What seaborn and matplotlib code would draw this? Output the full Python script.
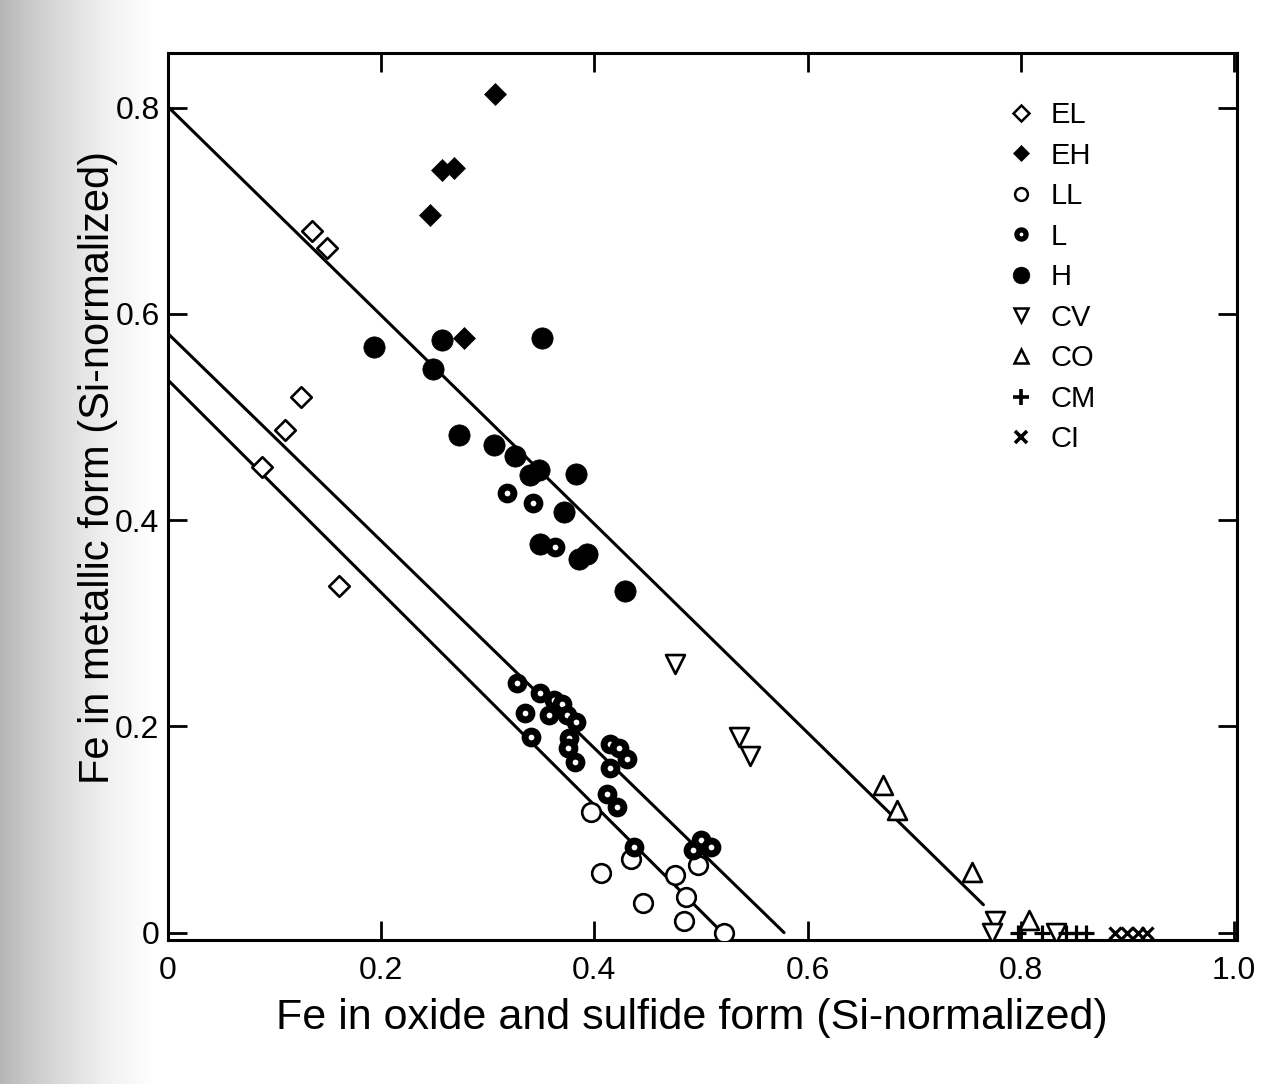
import numpy as np
import pandas as pd
import matplotlib.pyplot as plt
import seaborn as sns
from matplotlib.lines import Line2D

# points
el_x = [0.135, 0.149, 0.125, 0.110, 0.088, 0.160]
el_y = [0.680, 0.664, 0.519, 0.487, 0.452, 0.336]

eh_x = [0.307, 0.257, 0.268, 0.246, 0.278]
eh_y = [0.813, 0.740, 0.742, 0.696, 0.577]

ll_x = [0.434, 0.406, 0.476, 0.446, 0.486, 0.484, 0.522, 0.497, 0.397]
ll_y = [0.071, 0.058, 0.056, 0.029, 0.035, 0.011, 0.000, 0.066, 0.117]

l_x = [0.318, 0.342, 0.363, 0.327, 0.349, 0.335, 0.362, 0.370, 0.357, 0.374,
       0.383, 0.341, 0.376, 0.375, 0.382, 0.415, 0.423, 0.431, 0.415, 0.412,
       0.421, 0.437, 0.500, 0.509, 0.493]
l_y = [0.426, 0.417, 0.374, 0.242, 0.232, 0.213, 0.226, 0.222, 0.211, 0.211,
       0.204, 0.190, 0.189, 0.179, 0.165, 0.183, 0.179, 0.168, 0.160, 0.134,
       0.122, 0.083, 0.090, 0.083, 0.080]

h_x = [0.193, 0.257, 0.351, 0.249, 0.273, 0.306, 0.326, 0.340, 0.348, 0.383,
       0.372, 0.349, 0.386, 0.393, 0.429]
h_y = [0.568, 0.575, 0.577, 0.547, 0.483, 0.473, 0.462, 0.444, 0.449, 0.445,
       0.408, 0.377, 0.362, 0.367, 0.331]

cv_x = [0.476, 0.536, 0.546, 0.776, 0.773, 0.833]
cv_y = [0.261, 0.190, 0.171, 0.011, 0.000, 0.000]

co_x = [0.671, 0.684, 0.754, 0.808]
co_y = [0.143, 0.119, 0.059, 0.012]

cm_x = [0.797, 0.820, 0.842, 0.852, 0.861]
cm_y = [0.0, 0.0, 0.0, 0.0, 0.0]

ci_x = [0.888, 0.900, 0.910, 0.918]
ci_y = [0.0, 0.0, 0.0, 0.0]

# the three constant-total-Fe lines (start, end)
line_top_x = [0.0, 0.765]
line_top_y = [0.801, 0.027]
line_mid_x = [0.0, 0.578]
line_mid_y = [0.581, 0.0]
line_low_x = [0.0, 0.520]
line_low_y = [0.536, 0.0]

groups = ['EL', 'EH', 'LL', 'L', 'H', 'CV', 'CO', 'CM', 'CI']
xs = [el_x, eh_x, ll_x, l_x, h_x, cv_x, co_x, cm_x, ci_x]
ys = [el_y, eh_y, ll_y, l_y, h_y, cv_y, co_y, cm_y, ci_y]

frames = []
for g, x, y in zip(groups, xs, ys):
    frames.append(pd.DataFrame({'oxide': x, 'metal': y, 'group': g}))
df = pd.concat(frames, ignore_index=True)

# marker, size (pt^2), facecolor, edge width  / legend markersize, legend edge width
style = {
    'EL': ('D', 110, 'white', 1.9, 8.0, 1.8),
    'EH': ('D', 125, 'black', 0.5, 8.6, 0.5),
    'LL': ('o', 180, 'white', 1.9, 9.2, 1.8),
    'L':  ('o', 85, 'white', 5.0, 6.6, 3.8),
    'H':  ('o', 235, 'black', 0.5, 12.0, 0.5),
    'CV': ('v', 185, 'white', 1.9, 10.0, 1.8),
    'CO': ('^', 185, 'white', 1.9, 10.0, 1.8),
    'CM': ('+', 120, 'black', 2.3, 11.0, 2.6),
    'CI': ('x', 75, 'black', 2.3, 8.5, 2.6),
}

sns.set_style('ticks')
plt.rcParams['font.family'] = ['Liberation Sans', 'DejaVu Sans']
plt.rcParams['text.color'] = 'black'
plt.rcParams['axes.labelcolor'] = 'black'

fig = plt.figure(figsize=(12.82, 10.84), dpi=100)

# halftone shading along the left edge of the scan
bg = fig.add_axes([0, 0, 0.12, 1])
bg.imshow(np.linspace(0.40, 0.0, 200)[None, :], cmap='Greys', vmin=0, vmax=1,
          aspect='auto', extent=[0, 1, 0, 1])
bg.axis('off')

ax = fig.add_axes([0.131, 0.133, 0.834, 0.818])

for lx, ly in [(line_top_x, line_top_y), (line_mid_x, line_mid_y), (line_low_x, line_low_y)]:
    sns.lineplot(x=lx, y=ly, color='black', linewidth=2.2, sort=False, ax=ax, zorder=2)

for g in groups:
    sub = df[df['group'] == g]
    m, s, fc, lw, _, _ = style[g]
    if m in ('+', 'x'):
        sns.scatterplot(data=sub, x='oxide', y='metal', marker=m, s=s, color='black',
                        linewidth=lw, ax=ax, zorder=3)
    else:
        sns.scatterplot(data=sub, x='oxide', y='metal', marker=m, s=s, facecolor=fc,
                        edgecolor='black', linewidth=lw, ax=ax, zorder=3)

handles = []
for g in groups:
    m, s, fc, lw, lms, llw = style[g]
    if m in ('+', 'x'):
        h = Line2D([], [], linestyle='none', marker=m, markersize=lms, color='black',
                   markeredgewidth=llw)
    else:
        h = Line2D([], [], linestyle='none', marker=m, markersize=lms,
                   markerfacecolor=fc, markeredgecolor='black', markeredgewidth=llw)
    handles.append(h)
ax.legend(handles, groups, loc='upper left', bbox_to_anchor=(0.786, 0.946),
          frameon=False, fontsize=21, handlelength=0.9, handletextpad=0.55,
          labelspacing=0.43, borderpad=0, borderaxespad=0)

ax.set_xlim(0, 1.003)
ax.set_ylim(-0.007, 0.853)
ax.set_xticks([0, 0.2, 0.4, 0.6, 0.8, 1.0])
ax.set_xticklabels(['0', '0.2', '0.4', '0.6', '0.8', '1.0'])
ax.set_yticks([0, 0.2, 0.4, 0.6, 0.8])
ax.set_yticklabels(['0', '0.2', '0.4', '0.6', '0.8'])
ax.tick_params(direction='in', top=True, right=True, length=14, width=2,
               labelsize=23, color='black', labelcolor='black')
ax.tick_params(axis='x', pad=12)
ax.tick_params(axis='y', pad=6)
for sp in ax.spines.values():
    sp.set_linewidth(2.2)
    sp.set_color('black')

ax.set_xlabel('Fe in oxide and sulfide form (Si-normalized)', fontsize=31)
ax.set_ylabel('Fe in metallic form (Si-normalized)', fontsize=30)
ax.xaxis.set_label_coords(0.49, -0.066)
ax.yaxis.set_label_coords(-0.047, 0.533)

fig.savefig('out.png', dpi=100)
